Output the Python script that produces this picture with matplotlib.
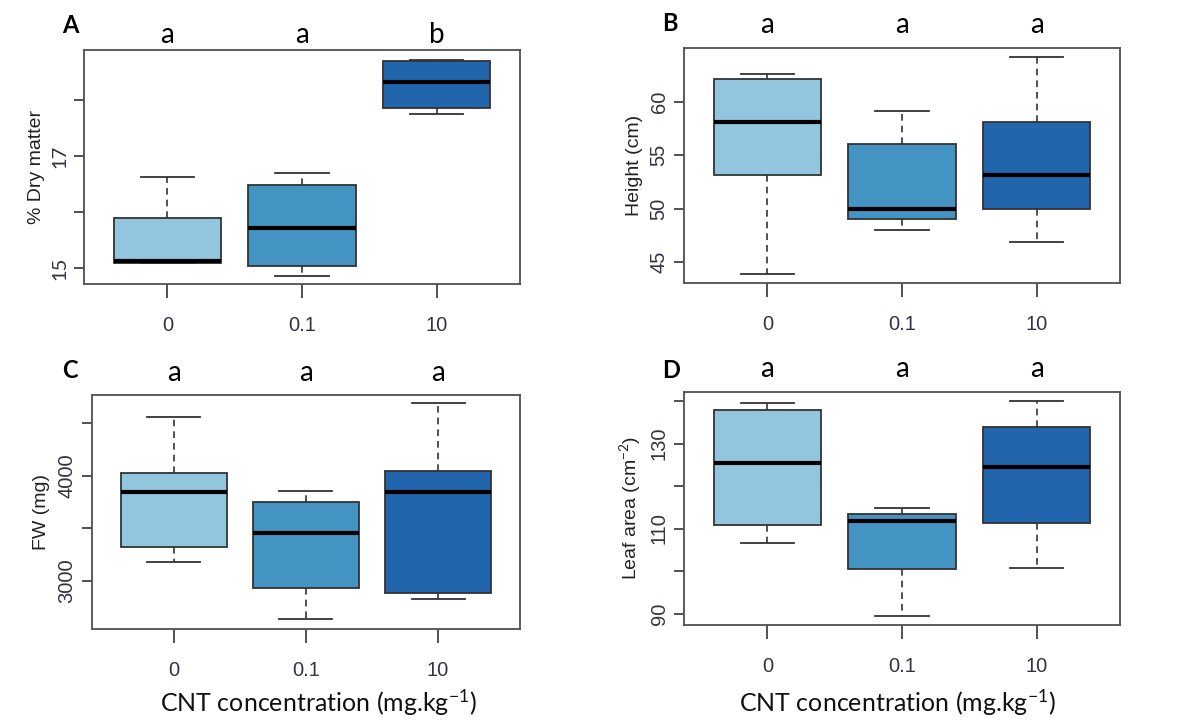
import matplotlib.pyplot as plt

plt.rcParams['mathtext.fontset'] = 'custom'
plt.rcParams['mathtext.rm'] = 'Lato'
plt.rcParams['mathtext.it'] = 'Lato:italic'

# groups and colours
groups = ['0', '0.1', '10']
colors = ['#92C5DE', '#4393C3', '#2166AC']

# box stats per panel: lower whisker, Q1, median, Q3, upper whisker
dry_lo = [15.09, 14.87, 17.75]
dry_q1 = [15.10, 15.04, 17.87]
dry_med = [15.13, 15.72, 18.33]
dry_q3 = [15.89, 16.49, 18.71]
dry_hi = [16.63, 16.71, 18.73]

height_lo = [43.9, 48.0, 46.9]
height_q1 = [53.1, 49.0, 50.0]
height_med = [58.1, 50.0, 53.1]
height_q3 = [62.1, 56.0, 58.1]
height_hi = [62.6, 59.1, 64.2]

fw_lo = [3184, 2636, 2829]
fw_q1 = [3326, 2937, 2889]
fw_med = [3842, 3453, 3842]
fw_q3 = [4022, 3753, 4044]
fw_hi = [4560, 3854, 4687]

leaf_lo = [106.6, 89.4, 100.8]
leaf_q1 = [110.9, 100.4, 111.4]
leaf_med = [125.4, 111.7, 124.5]
leaf_q3 = [137.8, 113.5, 133.8]
leaf_hi = [139.6, 114.9, 140.0]

letters_A = ['a', 'a', 'b']
letters_B = ['a', 'a', 'a']
letters_C = ['a', 'a', 'a']
letters_D = ['a', 'a', 'a']

panels = [
    dict(tag='A', ylabel='% Dry matter', lo=dry_lo, q1=dry_q1, med=dry_med, q3=dry_q3, hi=dry_hi,
         ticks=[15, 16, 17, 18], labels=['15', '', '17', ''], ylim=(14.72, 18.9), letters=letters_A,
         pos=[0.07, 0.6094, 0.3633, 0.3218], tagxy=(0.052, 0.965), lety=0.952, tfont='Lato'),
    dict(tag='B', ylabel='Height (cm)', lo=height_lo, q1=height_q1, med=height_med, q3=height_q3, hi=height_hi,
         ticks=[45, 50, 55, 60], labels=['45', '50', '55', '60'], ylim=(43.0, 65.0), letters=letters_B,
         pos=[0.57, 0.6103, 0.3633, 0.3233], tagxy=(0.552, 0.968), lety=0.965, tfont='Liberation Sans'),
    dict(tag='C', ylabel='FW (mg)', lo=fw_lo, q1=fw_q1, med=fw_med, q3=fw_q3, hi=fw_hi,
         ticks=[3000, 3500, 4000, 4500], labels=['3000', '', '4000', ''], ylim=(2544, 4766), letters=letters_C,
         pos=[0.0764, 0.1348, 0.357, 0.3219], tagxy=(0.052, 0.49), lety=0.487, tfont='Liberation Sans'),
    dict(tag='D', ylabel='Leaf area (cm$^{-2}$)', lo=leaf_lo, q1=leaf_q1, med=leaf_med, q3=leaf_q3, hi=leaf_hi,
         ticks=[90, 100, 110, 120, 130, 140], labels=['90', '', '110', '', '130', ''], ylim=(87.3, 142.2),
         letters=letters_D, pos=[0.57, 0.1403, 0.3633, 0.3209], tagxy=(0.552, 0.49), lety=0.492,
         tfont='Liberation Sans'),
]

fig = plt.figure(figsize=(12, 7.27), dpi=100)
edge = '#333333'
tickc = '#333344'

for p in panels:
    ax = fig.add_axes(p['pos'])
    stats = []
    for i, g in enumerate(groups):
        stats.append(dict(label=g, whislo=p['lo'][i], q1=p['q1'][i], med=p['med'][i],
                          q3=p['q3'][i], whishi=p['hi'][i], fliers=[]))
    bp = ax.bxp(stats, positions=[1, 2, 3], widths=0.8, capwidths=0.4, patch_artist=True,
                showfliers=False,
                boxprops=dict(edgecolor=edge, linewidth=1.3),
                medianprops=dict(color='black', linewidth=3, solid_capstyle='butt'),
                whiskerprops=dict(color=edge, linewidth=1.2, linestyle=(0, (4, 3))),
                capprops=dict(color=edge, linewidth=1.3))
    for patch, c in zip(bp['boxes'], colors):
        patch.set_facecolor(c)

    ax.set_xlim(0.38, 3.62)
    ax.set_ylim(*p['ylim'])
    ax.set_yticks(p['ticks'])
    ax.set_yticklabels(p['labels'], rotation=90, va='center', fontsize=14.5, color=tickc,
                       family=p['tfont'])
    ax.set_xticks([1, 2, 3])
    ax.set_xticklabels(groups, fontsize=14.5, color=tickc, family='Liberation Sans')
    ax.tick_params(axis='x', length=10, width=1.2, color=edge, pad=13)
    ax.tick_params(axis='y', length=7, width=1.2, color=edge, pad=4)
    ax.set_ylabel(p['ylabel'], fontsize=14, color='#222222', family='Liberation Sans', labelpad=5)
    for s in ax.spines.values():
        s.set_color('#505050')
        s.set_linewidth(1.3)

    fig.text(p['tagxy'][0], p['tagxy'][1], p['tag'], fontsize=17, fontweight='bold',
             family='Lato', ha='left', va='center')
    # significance letters above each box
    for i, lt in enumerate(p['letters']):
        xfig = fig.transFigure.inverted().transform(ax.transData.transform((i + 1, 0)))[0]
        fig.text(xfig, p['lety'], lt, fontsize=20, family='Lato', ha='center', va='center')

fig.text(0.265, 0.033, 'CNT concentration (mg.kg$^{-1}$)', fontsize=18, family='Lato',
         ha='center', va='center', color='#111111')
fig.text(0.748, 0.033, 'CNT concentration (mg.kg$^{-1}$)', fontsize=18, family='Lato',
         ha='center', va='center', color='#111111')

plt.savefig('out.png', dpi=100)
